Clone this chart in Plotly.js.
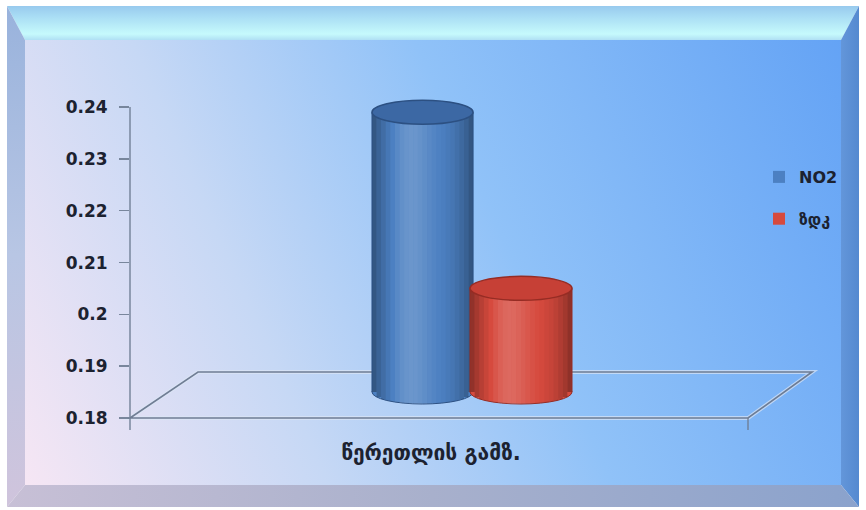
<!DOCTYPE html>
<html>
<head>
<meta charset="utf-8">
<script src="https://cdn.plot.ly/plotly-3.0.1.min.js"></script>
<style>
  html, body { margin: 0; padding: 0; background: #ffffff; width: 866px; height: 510px; overflow: hidden; }
  .bev { position: absolute; left: 0; top: 0; width: 866px; height: 510px; }
  #inner { position: absolute; left: 25px; top: 40px; width: 816px; height: 445px;
    background: linear-gradient(66deg, #f6e6f4 0%, #c6d8f5 30%, #90c2f8 58%, #64a3f5 100%); }
  #bTop { clip-path: polygon(7px 6px, 859px 6px, 841px 40px, 25px 40px);
    background: linear-gradient(to bottom, #8ebfea 0px, #a8dcf4 16px, #c6fafc 34px, #b0e0f4 40px, #ffffff 41px); }
  #bLeft { clip-path: polygon(7px 6px, 25px 40px, 25px 485px, 7px 507px);
    background: linear-gradient(to bottom, #98b2dc 0%, #b8c6e4 50%, #d0c4dc 100%); }
  #bRight { clip-path: polygon(859px 6px, 859px 507px, 841px 485px, 841px 40px);
    background: linear-gradient(to right, #6c9ee0 830px, #4f84cc 866px); }
  #bBottom { clip-path: polygon(7px 507px, 25px 485px, 841px 485px, 859px 507px);
    background: linear-gradient(to right, #c8c0d6 0%, #a8b0cc 50%, #8aa2cc 100%); }
  #chart { position: absolute; left: 0; top: 0; width: 866px; height: 510px; }
</style>
</head>
<body>
<div id="inner"></div>
<div class="bev" id="bTop"></div>
<div class="bev" id="bLeft"></div>
<div class="bev" id="bRight"></div>
<div class="bev" id="bBottom"></div>
<div id="chart"></div>
<script>
// ---- data ----
const categories = ['წერეთლის გამზ.'];
const seriesNames = ['NO2', 'ზდკ'];
const no2Values = [0.234];
const zdkValues = [0.2];
const yTickVals = [0.18, 0.19, 0.2, 0.21, 0.22, 0.23, 0.24];
const yTickText = ['0.18', '0.19', '0.2', '0.21', '0.22', '0.23', '0.24'];

// ---- layout constants ----
const M = {l: 130, r: 116, t: 90, b: 92};
const plotH = 510 - M.t - M.b;
const yMin = 0.18, yMax = 0.2433;
const pxPerUnit = plotH / (yMax - yMin);
const depthPx = 26;
const d = depthPx / pxPerUnit;
const baseVal = yMin;

const seriesStyle = [
  {color: 'rgb(76,128,194)', cap: 'rgb(60,104,164)', rim: 'rgb(44,80,130)', offset: -0.0952, width: 0.163},
  {color: 'rgb(214,74,62)', cap: 'rgb(198,64,54)', rim: 'rgb(150,44,36)', offset: 0.0629, width: 0.1645}
];
const seriesValues = [no2Values, zdkValues];

const traces = seriesValues.map((vals, i) => ({
  type: 'bar',
  name: seriesNames[i],
  legendgroup: 'g' + i,
  x: categories,
  y: vals.map(v => v - baseVal),
  base: baseVal,
  yaxis: 'y2',
  offset: seriesStyle[i].offset,
  width: seriesStyle[i].width,
  marker: {color: seriesStyle[i].color, line: {width: 0}},
  hoverinfo: 'name+text',
  text: vals.map(String),
  textposition: 'none'
}));

const shapes = [];
const px2x = p => (p - M.l) / (866 - M.l - M.r);
const px2y = p => (510 - M.b - p) / plotH;
const fl = {x: px2x(130), y: px2y(418)};
const bl = {x: px2x(198), y: px2y(372)};
const br = {x: px2x(812), y: px2y(372)};
const fr = {x: px2x(748), y: px2y(418)};
const floorPath = `M ${fl.x},${fl.y} L ${bl.x},${bl.y} L ${br.x},${br.y} L ${fr.x},${fr.y} Z`;
shapes.push({type: 'path', xref: 'paper', yref: 'paper', layer: 'below', path: floorPath,
  line: {color: 'rgba(220,230,245,0.7)', width: 4}, fillcolor: 'rgba(0,0,0,0)'});
shapes.push({type: 'path', xref: 'paper', yref: 'paper', layer: 'below', path: floorPath,
  line: {color: 'rgba(100,114,138,0.9)', width: 1.6}, fillcolor: 'rgba(0,0,0,0)'});
shapes.push({type: 'line', xref: 'paper', yref: 'y', x0: 0, x1: 0, y0: 0.18, y1: 0.24, layer: 'below',
  line: {color: 'rgba(110,124,146,0.9)', width: 1.5}});
[fl.x, fr.x].forEach(xx => shapes.push({type: 'line', xref: 'paper', yref: 'paper', x0: xx, x1: xx,
  y0: px2y(418), y1: px2y(430), line: {color: 'rgba(110,124,146,0.9)', width: 1.5}}));

const ellH = 12;
const N = 22;
seriesValues.forEach((vals, i) => {
  const st = seriesStyle[i];
  vals.forEach((v, ci) => {
    const xa = ci + st.offset, xb = ci + st.offset + st.width;
    shapes.push({type: 'circle', xref: 'x', yref: 'y2', layer: 'above',
      x0: xa, x1: xb, ysizemode: 'pixel', yanchor: baseVal, y0: -ellH, y1: ellH,
      fillcolor: st.color, line: {color: st.rim, width: 1}});
    shapes.push({type: 'rect', xref: 'x', yref: 'y2', layer: 'above',
      x0: xa, x1: xb, y0: baseVal, y1: v, fillcolor: st.color, line: {width: 0}});
    for (let k = 0; k < N; k++) {
      const t0 = k / N, t1 = (k + 1) / N, tc = (t0 + t1) / 2;
      const edgeT = Math.max(Math.abs(2 * t0 - 1), Math.abs(2 * t1 - 1));
      const bottomPx = ellH * Math.sqrt(Math.max(0, 1 - edgeT * edgeT));
      const light = 0.18 * Math.exp(-Math.pow((tc - 0.38) / 0.2, 2));
      const dark = 0.38 * Math.pow(Math.abs(2 * tc - 1), 3);
      const net = light - dark;
      const fc = net >= 0 ? `rgba(255,255,255,${net.toFixed(3)})` : `rgba(0,0,0,${(-net).toFixed(3)})`;
      shapes.push({type: 'rect', xref: 'x', yref: 'y2', layer: 'above',
        x0: xa + (xb - xa) * t0, x1: xa + (xb - xa) * t1,
        y0: baseVal - bottomPx / pxPerUnit, y1: v,
        fillcolor: fc, line: {width: 0}});
    }
    shapes.push({type: 'line', xref: 'x', yref: 'y2', layer: 'above', x0: xa, x1: xa, y0: baseVal, y1: v,
      line: {color: st.rim, width: 1}});
    shapes.push({type: 'line', xref: 'x', yref: 'y2', layer: 'above', x0: xb, x1: xb, y0: baseVal, y1: v,
      line: {color: st.rim, width: 1}});
    shapes.push({type: 'circle', xref: 'x', yref: 'y2', layer: 'above',
      x0: xa, x1: xb, ysizemode: 'pixel', yanchor: v, y0: -ellH, y1: ellH,
      fillcolor: st.cap, line: {color: st.rim, width: 1.5}});
  });
});

const layout = {
  width: 866, height: 510,
  margin: M,
  paper_bgcolor: 'rgba(0,0,0,0)',
  plot_bgcolor: 'rgba(0,0,0,0)',
  barmode: 'overlay',
  showlegend: true,
  font: {family: 'DejaVu Sans, sans-serif', color: '#1c2230'},
  xaxis: {
    type: 'category', range: [-0.4855, 0.5145], fixedrange: true,
    showgrid: false, zeroline: false, showline: false, ticks: '',
    ticklabelstandoff: 20,
    tickfont: {family: 'DejaVu Sans, sans-serif', size: 21, weight: 'bold', color: '#1c2230'}
  },
  yaxis: {
    range: [yMin, yMax], tickvals: yTickVals, ticktext: yTickText,
    showgrid: false, zeroline: false, showline: false,
    ticks: 'outside', ticklen: 10, tickcolor: 'rgba(110,124,146,0.9)', tickwidth: 1.5,
    ticklabelstandoff: 8,
    tickfont: {family: 'DejaVu Sans, sans-serif', size: 17, weight: 'bold', color: '#1c2230'}
  },
  yaxis2: {
    overlaying: 'y', range: [yMin - d, yMax - d], visible: false, showgrid: false, zeroline: false
  },
  legend: {
    x: px2x(759), y: px2y(160), xanchor: 'left', yanchor: 'top',
    bgcolor: 'rgba(0,0,0,0)', borderwidth: 0, tracegroupgap: 18,
    traceorder: 'grouped',
    font: {family: 'DejaVu Sans, sans-serif', size: 16, weight: 'bold', color: '#1c2230'}
  },
  shapes: shapes
};

Plotly.newPlot('chart', traces, layout, {displayModeBar: false, staticPlot: true});
</script>
</body>
</html>
